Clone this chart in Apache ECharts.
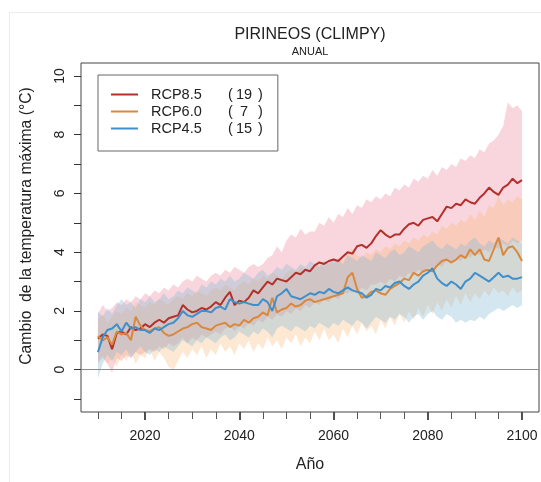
<!DOCTYPE html>
<html><head><meta charset="utf-8">
<script src="https://cdn.jsdelivr.net/npm/echarts@6/dist/echarts.min.js"></script>
<style>html,body{margin:0;padding:0;background:#fff}#c{width:541px;height:482px}</style>
</head><body><div id="c"></div>
<script>
const years = [2010,2011,2012,2013,2014,2015,2016,2017,2018,2019,
2020,2021,2022,2023,2024,2025,2026,2027,2028,2029,
2030,2031,2032,2033,2034,2035,2036,2037,2038,2039,
2040,2041,2042,2043,2044,2045,2046,2047,2048,2049,
2050,2051,2052,2053,2054,2055,2056,2057,2058,2059,
2060,2061,2062,2063,2064,2065,2066,2067,2068,2069,
2070,2071,2072,2073,2074,2075,2076,2077,2078,2079,
2080,2081,2082,2083,2084,2085,2086,2087,2088,2089,
2090,2091,2092,2093,2094,2095,2096,2097,2098,2099,2100];

const rcp85 = [1.05,1.2,1.15,0.7,1.25,1.3,1.2,1.45,1.35,1.4,
1.55,1.45,1.6,1.7,1.6,1.75,1.8,1.85,2.2,2.05,
1.95,2.0,2.1,2.05,2.15,2.3,2.2,2.45,2.65,2.2,
2.35,2.3,2.45,2.7,2.6,2.8,3.0,2.9,3.1,3.05,
3.0,3.15,3.3,3.25,3.4,3.35,3.55,3.65,3.6,3.7,
3.75,3.7,3.85,4.0,3.95,4.2,4.25,4.15,4.3,4.55,
4.75,4.6,4.5,4.6,4.6,4.8,4.95,5.0,4.9,5.1,
5.15,5.2,5.05,5.3,5.55,5.5,5.65,5.6,5.8,5.7,
5.65,5.85,6.0,6.2,6.05,5.95,6.2,6.3,6.5,6.35,6.45];
const rcp85Lo = [0.2,0.4,0.2,-0.1,0.4,0.3,0.5,0.4,0.6,0.5,
0.6,0.7,0.6,0.8,0.7,0.9,0.8,0.9,1.1,0.9,
1.1,1.0,1.2,1.1,1.2,1.3,1.2,1.4,1.5,1.3,
1.5,1.4,1.6,1.5,1.7,1.6,1.8,1.7,1.9,1.8,
2.0,1.9,2.1,2.0,2.2,2.1,2.3,2.2,2.4,2.3,
2.5,2.4,2.6,2.6,2.7,2.6,2.8,2.7,2.9,2.9,
3.0,2.9,3.1,3.0,3.2,3.1,3.3,3.2,3.4,3.3,
3.5,3.4,3.6,3.5,3.7,3.6,3.8,3.7,3.9,3.8,
4.0,3.9,4.1,4.0,4.2,4.1,4.3,4.2,4.4,4.3,4.4];
const rcp85Hi = [1.9,2.2,2.0,2.1,2.3,2.2,2.4,2.3,2.5,2.4,
2.6,2.5,2.7,2.6,2.8,2.7,2.9,2.8,3.0,3.1,
3.0,3.2,3.1,3.0,3.2,3.3,3.2,3.4,3.3,3.5,
3.4,3.3,3.5,3.6,3.5,3.6,3.8,3.9,4.2,4.0,
4.4,4.6,4.5,4.8,4.6,4.7,4.7,5.0,4.9,5.2,
5.0,5.3,5.2,5.5,5.3,5.6,5.5,5.8,5.7,5.9,
5.8,6.0,5.9,6.2,6.1,6.3,6.2,6.5,6.4,6.6,
6.5,6.8,6.6,6.9,6.8,7.0,6.9,7.2,7.1,7.3,
7.2,7.5,7.4,7.7,7.8,8.0,8.3,9.1,8.9,9.0,8.8];

const rcp60 = [1.15,1.0,1.1,0.85,1.3,1.2,1.25,1.0,1.8,1.5,
1.35,1.3,1.4,1.45,1.25,1.15,1.2,1.3,1.4,1.45,
1.55,1.6,1.45,1.4,1.35,1.5,1.55,1.6,1.45,1.55,
1.5,1.7,1.6,1.75,1.8,1.95,1.85,2.45,1.95,2.05,
2.1,2.25,2.15,2.2,2.35,2.4,2.3,2.35,2.4,2.45,
2.5,2.55,2.6,3.15,3.3,2.75,2.45,2.5,2.65,2.7,
2.6,2.55,2.75,2.85,2.95,3.1,3.05,3.3,3.2,3.35,
3.4,3.35,3.55,3.7,3.75,3.65,3.75,3.9,3.8,4.1,
3.9,4.1,3.75,3.7,4.1,4.5,3.9,4.15,4.2,4.0,3.7];
const rcp60Lo = [0.3,0.5,0.2,0.4,0.1,0.5,0.3,0.6,0.2,0.5,
0.4,0.7,0.3,0.6,0.4,0.1,0.0,0.3,0.6,0.4,
0.7,0.5,0.8,0.4,0.7,0.5,0.9,0.6,0.8,0.5,
0.9,0.7,1.0,0.6,0.9,0.7,1.1,0.8,1.0,0.7,
1.1,0.9,1.2,0.8,1.1,0.9,1.3,1.0,1.4,1.0,
1.2,0.9,1.4,1.1,1.5,1.2,1.6,1.3,1.5,1.2,
1.7,1.4,1.8,1.5,1.9,1.6,2.0,1.7,2.1,1.8,
2.2,1.9,2.3,2.0,2.4,2.1,2.5,2.2,2.6,2.3,
2.6,2.4,2.7,2.5,2.8,2.6,2.7,2.5,2.8,2.6,2.7];
const rcp60Hi = [1.7,1.9,1.6,1.8,2.0,1.9,2.1,2.0,2.3,2.2,
2.1,2.3,2.2,2.4,2.3,2.2,2.4,2.5,2.4,2.6,
2.5,2.7,2.6,2.5,2.7,2.8,2.7,2.9,2.8,2.7,
2.9,3.0,2.9,3.1,3.0,3.2,3.1,3.3,3.2,3.1,
3.3,3.4,3.3,3.5,3.4,3.3,3.5,3.6,3.5,3.7,
3.6,3.8,3.7,4.0,4.1,3.9,3.8,4.0,3.9,4.1,
4.0,4.2,4.1,4.3,4.2,4.4,4.3,4.5,4.4,4.6,
4.5,4.7,4.6,4.9,4.8,5.0,4.9,5.1,5.0,5.3,
5.1,5.4,5.2,5.6,5.5,5.9,5.6,5.8,5.7,5.9,5.8];

const rcp45 = [0.6,1.1,1.35,1.4,1.55,1.3,1.6,1.4,1.45,1.35,
1.35,1.25,1.4,1.35,1.45,1.55,1.6,1.75,2.0,1.85,
1.8,1.9,2.0,2.0,1.95,2.1,2.15,2.05,2.4,2.3,
2.25,2.3,2.25,2.2,2.2,2.4,2.3,2.0,2.5,2.6,
2.75,2.5,2.45,2.4,2.5,2.6,2.55,2.65,2.6,2.75,
2.65,2.6,2.7,2.8,2.7,2.65,2.6,2.45,2.55,2.75,
2.7,2.85,2.8,2.95,3.0,2.85,2.75,2.9,3.0,3.2,
3.3,3.45,3.1,2.95,2.85,3.0,2.9,2.75,3.0,3.1,
3.3,3.2,3.1,3.0,3.15,3.3,3.15,3.2,3.1,3.1,3.15];
const rcp45Lo = [-0.3,0.2,0.5,0.3,0.6,0.5,0.7,0.4,0.6,0.8,
0.6,0.5,0.7,0.6,0.8,0.7,0.6,0.8,1.0,0.9,
0.8,1.0,0.9,1.1,1.0,0.9,1.1,1.2,1.0,1.1,
1.3,1.2,1.1,1.3,1.2,1.4,1.3,1.1,1.4,1.5,
1.4,1.3,1.5,1.4,1.3,1.5,1.4,1.6,1.5,1.4,
1.6,1.5,1.7,1.6,1.5,1.7,1.6,1.4,1.6,1.8,
1.7,1.6,1.8,1.7,1.9,1.8,1.6,1.8,1.9,1.7,
1.9,2.0,1.8,1.7,1.9,1.8,1.6,1.7,1.6,1.7,
1.65,1.8,1.7,1.9,2.0,2.1,2.0,2.1,2.2,2.1,2.2];
const rcp45Hi = [2.0,1.8,2.1,1.9,2.2,2.4,2.2,2.3,2.1,2.4,
2.3,2.5,2.3,2.4,2.6,2.4,2.5,2.7,2.6,2.8,
2.7,2.6,2.9,2.8,3.0,2.9,3.1,3.0,3.2,3.0,
3.1,3.3,3.2,3.1,3.3,3.4,3.2,3.3,3.5,3.4,
3.6,3.5,3.4,3.6,3.5,3.7,3.6,3.5,3.7,3.6,
3.8,3.7,3.6,3.9,3.8,3.7,3.9,3.8,3.7,4.0,
3.9,3.8,4.0,4.1,3.9,4.0,4.2,4.1,4.0,4.2,
4.3,4.4,4.2,4.1,4.3,4.2,4.1,4.3,4.2,4.4,
4.5,4.3,4.2,4.4,4.3,4.5,4.4,4.3,4.5,4.4,4.3];

const seriesNames = ['RCP8.5','RCP6.0','RCP4.5'];
const modelCounts = ['19','7','15'];
const lineColors = ['#b3302c','#d9883e','#3f8fcc'];
const bandColors = ['rgba(238,140,160,0.36)','rgba(250,180,110,0.30)','rgba(130,185,215,0.34)'];
const xTickLabels = [2020,2040,2060,2080,2100];
const xMinorTicks = [2010,2015,2020,2025,2030,2035,2040,2045,2050,2055,2060,2065,2070,2075,2080,2085,2090,2095,2100];
const yTickLabels = [0,2,4,6,8,10];
const yTicks = [-1,0,1,2,3,4,5,6,7,8,9,10];

const means = [rcp85, rcp60, rcp45];
const lows = [rcp85Lo, rcp60Lo, rcp45Lo];
const highs = [rcp85Hi, rcp60Hi, rcp45Hi];

const FONT = "'Liberation Sans', Arial, Helvetica, sans-serif";
const chart = echarts.init(document.getElementById('c'), null, {renderer: 'canvas'});

function pairs(v) { return years.map((y, i) => [y, v[i]]); }

const series = [];
for (let k = 0; k < 3; k++) {
  const lo = lows[k], hi = highs[k], col = bandColors[k];
  series.push({
    type: 'custom', name: seriesNames[k] + ' band', silent: true, clip: true, z: 1,
    data: [[years[0], hi[0]]],
    renderItem: function (params, api) {
      const pts = [];
      for (let i = 0; i < years.length; i++) pts.push(api.coord([years[i], hi[i]]));
      for (let i = years.length - 1; i >= 0; i--) pts.push(api.coord([years[i], lo[i]]));
      return { type: 'polygon', shape: { points: pts }, style: { fill: col, stroke: null } };
    }
  });
}
for (let k = 0; k < 3; k++) {
  const s = {
    type: 'line', name: seriesNames[k], data: pairs(means[k]), symbol: 'none', z: 3,
    lineStyle: { color: lineColors[k], width: 2 }, itemStyle: { color: lineColors[k] },
    silent: true
  };
  if (k === 0) {
    s.markLine = { silent: true, symbol: 'none', label: { show: false },
      lineStyle: { color: '#8c8c8c', width: 1, type: 'solid' }, data: [{ yAxis: 0 }] };
  }
  series.push(s);
}

const countMap = {};
seriesNames.forEach((n, i) => countMap[n] = modelCounts[i]);

chart.setOption({
  animation: false,
  backgroundColor: '#ffffff',
  title: [
    { text: 'PIRINEOS (CLIMPY)', left: 310, top: 26, textAlign: 'center', padding: 0,
      textStyle: { fontFamily: FONT, fontSize: 16, lineHeight: 18, fontWeight: 'normal', color: '#222' } },
    { text: 'ANUAL', left: 310, top: 45, textAlign: 'center', padding: 0,
      textStyle: { fontFamily: FONT, fontSize: 11, lineHeight: 13, fontWeight: 'normal', color: '#222' } }
  ],
  graphic: [
    { type: 'rect', left: 7, top: 10, shape: { width: 540, height: 480 }, silent: true,
      style: { fill: null, stroke: '#ececec', lineWidth: 1 } },
    { type: 'text', x: 27, y: 226, rotation: Math.PI / 2, silent: true,
      style: { text: 'Cambio  de la temperatura máxima (°C)', fontFamily: FONT, fontSize: 15.7,
        fill: '#222', textAlign: 'center', textVerticalAlign: 'middle' } }
  ],
  legend: {
    data: seriesNames, orient: 'vertical', left: 98, top: 75,
    padding: [12, 15, 15, 13], itemGap: 2, itemWidth: 27, itemHeight: 2, icon: 'rect',
    borderColor: '#666', borderWidth: 1, borderRadius: 0,
    selectedMode: false,
    formatter: n => `{n|${n}}{p|(}{v|${countMap[n]}}{q| )}`,
    textStyle: { fontFamily: FONT, fontSize: 14.5, color: '#222', lineHeight: 14,
      rich: { n: { width: 77, padding: [0, 0, 0, 8], fontFamily: FONT, fontSize: 14.5, lineHeight: 14 },
              p: { width: 6, fontFamily: FONT, fontSize: 14.5, lineHeight: 14 },
              v: { width: 20, align: 'right', fontFamily: FONT, fontSize: 14.5, lineHeight: 14 },
              q: { fontFamily: FONT, fontSize: 14.5, lineHeight: 14 } } }
  },
  grid: { left: 81, right: 2, top: 63, bottom: 70, show: true, borderColor: '#444', borderWidth: 1, backgroundColor: 'transparent' },
  xAxis: [
    { type: 'value', min: 2006.4, max: 2103.6, position: 'bottom',
      name: 'Año', nameLocation: 'middle', nameGap: 45,
      nameTextStyle: { fontFamily: FONT, fontSize: 16, color: '#222' },
      axisLine: { show: false, onZero: false }, splitLine: { show: false },
      axisTick: { show: true, length: 8, customValues: xTickLabels, lineStyle: { color: '#222', width: 1.6 } },
      axisLabel: { customValues: xTickLabels, margin: 17, fontFamily: FONT, fontSize: 14, color: '#222',
        formatter: v => String(v) } },
    { type: 'value', min: 2006.4, max: 2103.6, position: 'bottom', offset: 0,
      axisLine: { show: false, onZero: false }, splitLine: { show: false },
      axisTick: { show: true, length: 7, customValues: xMinorTicks, lineStyle: { color: '#555', width: 1 } },
      axisLabel: { show: false } }
  ],
  yAxis: {
    type: 'value', min: -1.44, max: 10.44,
    axisLine: { show: false, onZero: false }, splitLine: { show: false },
    axisTick: { show: true, length: 7, customValues: yTicks, lineStyle: { color: '#333', width: 1 } },
    axisLabel: { customValues: yTickLabels, rotate: 90, margin: 14, fontFamily: FONT, fontSize: 14, color: '#222' }
  },
  series: series
});
</script></body></html>
